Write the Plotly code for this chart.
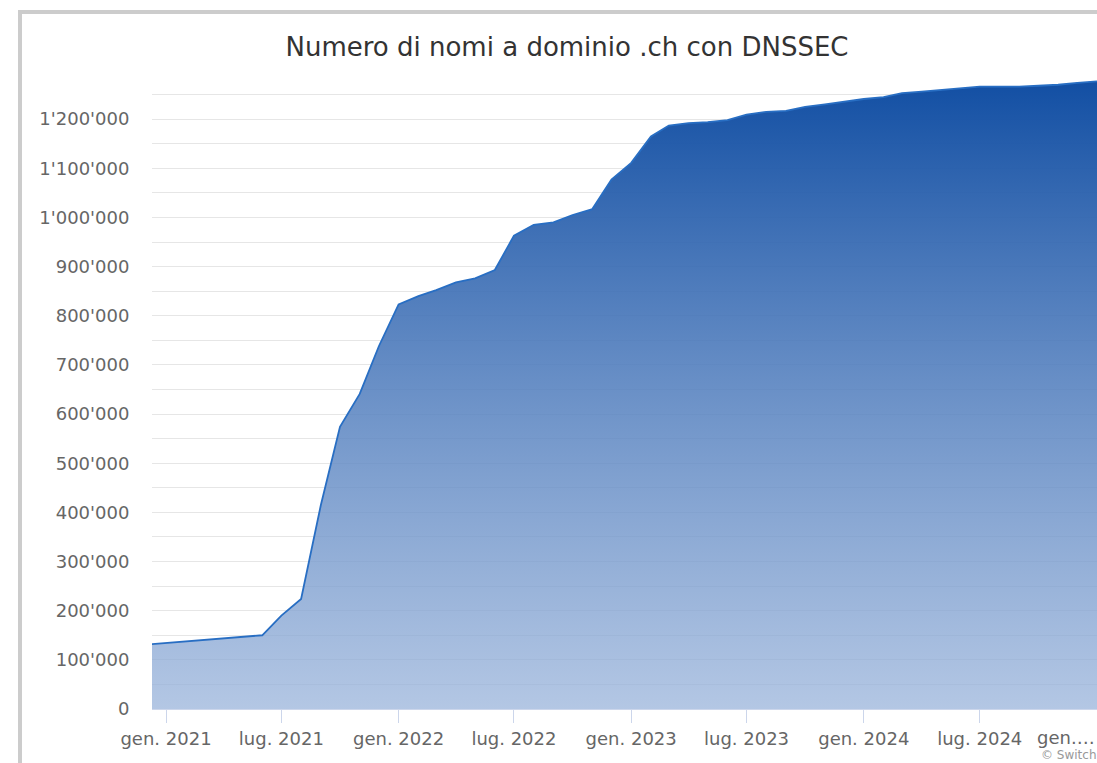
import plotly.graph_objects as go

# monthly counts of .ch domains signed with DNSSEC
months = [
    '2020-12-01',
    '2021-01-01', '2021-02-01', '2021-03-01', '2021-04-01', '2021-05-01', '2021-06-01',
    '2021-07-01', '2021-08-01', '2021-09-01', '2021-10-01', '2021-11-01', '2021-12-01',
    '2022-01-01', '2022-02-01', '2022-03-01', '2022-04-01', '2022-05-01', '2022-06-01',
    '2022-07-01', '2022-08-01', '2022-09-01', '2022-10-01', '2022-11-01', '2022-12-01',
    '2023-01-01', '2023-02-01', '2023-03-01', '2023-04-01', '2023-05-01', '2023-06-01',
    '2023-07-01', '2023-08-01', '2023-09-01', '2023-10-01', '2023-11-01', '2023-12-01',
    '2024-01-01', '2024-02-01', '2024-03-01', '2024-04-01', '2024-05-01', '2024-06-01',
    '2024-07-01', '2024-08-01', '2024-09-01', '2024-10-01', '2024-11-01', '2024-12-01',
    '2025-01-01',
]
domains = [
    131000,
    134000, 137000, 140000, 144000, 147000, 150000,
    190000, 224000, 415000, 574000, 641000, 738000,
    823000, 840000, 852000, 868000, 876000, 893000,
    963000, 985000, 990000, 1005000, 1017000, 1077000,
    1111000, 1165000, 1187000, 1192000, 1194000, 1198000,
    1209000, 1215000, 1217000, 1225000, 1230000, 1236000,
    1241000, 1245000, 1253000, 1256000, 1259000, 1262000,
    1266000, 1266000, 1266000, 1268000, 1270000, 1274000,
    1277000,
]

x_ticks = ['2021-01-01', '2021-07-01', '2022-01-01', '2022-07-01',
           '2023-01-01', '2023-07-01', '2024-01-01', '2024-07-01']
x_labels = ['gen. 2021', 'lug. 2021', 'gen. 2022', 'lug. 2022',
            'gen. 2023', 'lug. 2023', 'gen. 2024', 'lug. 2024']
y_ticks = list(range(0, 1300001, 100000))
y_labels = ["{:,}".format(v).replace(',', "'") for v in y_ticks[:-1]] + ['']

W, H = 1097, 763
L, R, T, B = 152, 0, 70, 54
PW, PH = W - L - R, H - T - B

def px_x(p):
    return (p - L) / PW

def px_y(p):
    return (H - B - p) / PH

FONT = 'DejaVu Sans, Verdana, sans-serif'

fig = go.Figure(go.Scatter(
    x=months, y=domains, mode='lines', fill='tozeroy',
    line=dict(color='rgb(40,110,195)', width=1.8),
    fillgradient=dict(type='vertical', start=0, stop=1285000,
                      colorscale=[[0, 'rgba(154,180,219,0.75)'],
                                  [1, 'rgba(17,78,163,1)']]),
    hoverinfo='skip', showlegend=False,
))

fig.update_layout(
    width=W, height=H,
    margin=dict(l=L, r=R, t=T, b=B),
    paper_bgcolor='white', plot_bgcolor='white',
    font=dict(family=FONT, size=18, color='#666666'),
    title=dict(text='Numero di nomi a dominio .ch con DNSSEC',
               x=px_x(567), xref='paper', xanchor='center',
               y=1 - 47 / H, yanchor='middle',
               font=dict(size=26, color='#333333')),
    shapes=[
        dict(type='line', xref='paper', yref='paper',
             x0=px_x(20), x1=px_x(20), y0=px_y(12), y1=px_y(770),
             line=dict(color='#cccccc', width=4)),
        dict(type='line', xref='paper', yref='paper',
             x0=px_x(18), x1=px_x(1110), y0=px_y(12), y1=px_y(12),
             line=dict(color='#cccccc', width=4)),
    ],
    annotations=[
        dict(text='gen.…', xref='paper', yref='paper', x=px_x(1097), y=px_y(737),
             xanchor='right', yanchor='middle', showarrow=False,
             font=dict(size=18, color='#666666')),
        dict(text='© Switch', xref='paper', yref='paper', x=px_x(1099), y=px_y(755),
             xanchor='right', yanchor='middle', showarrow=False,
             font=dict(size=12, color='#999999')),
    ],
)

fig.update_xaxes(
    range=['2020-12-10', '2025-01-01'],
    tickvals=x_ticks, ticktext=x_labels,
    showgrid=False, zeroline=False,
    showline=True, linecolor='#ccd6eb', linewidth=1,
    ticks='outside', ticklen=13, tickcolor='#ccd6eb', tickwidth=1,
)
fig.update_yaxes(
    range=[0, 1300000],
    tickvals=y_ticks, ticktext=y_labels,
    showgrid=True, gridcolor='#e6e6e6', gridwidth=1,
    minor=dict(dtick=50000, showgrid=True, gridcolor='#e6e6e6', gridwidth=1),
    zeroline=False, showline=False,
    ticks='outside', ticklen=18, tickcolor='rgba(0,0,0,0)',
)

# the page's default body margin would push the figure 8px off the window
fig.write_html("out.html", config={'displayModeBar': False},
               post_script="document.body.style.margin='0px';")
